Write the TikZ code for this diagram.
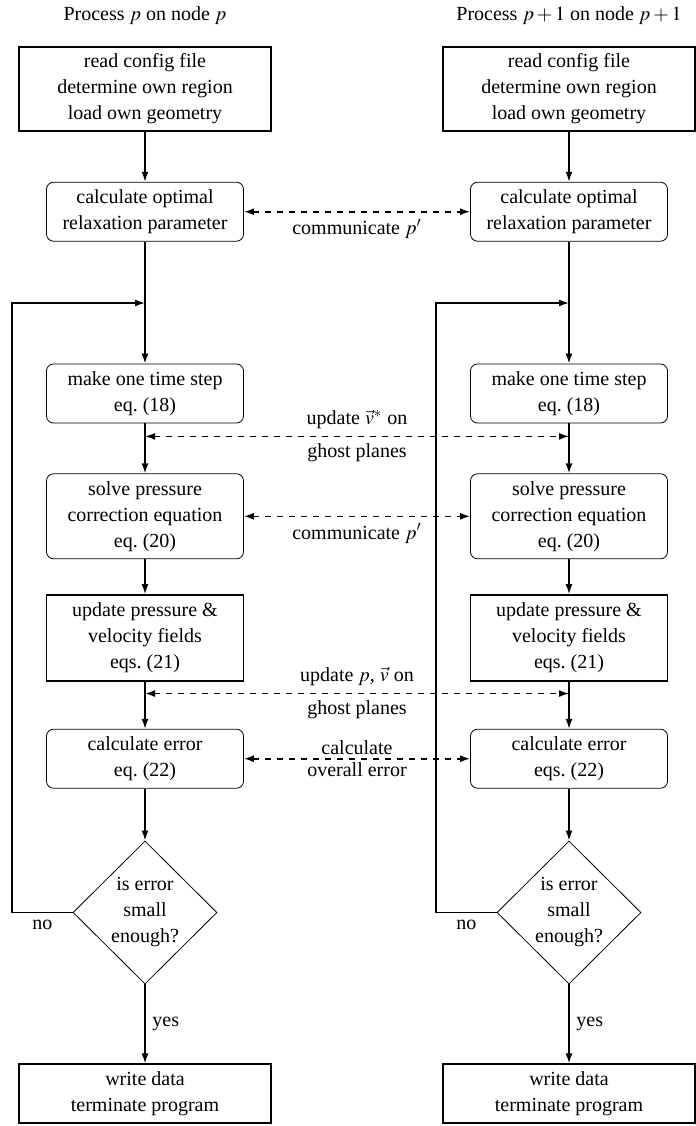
\documentclass[tikz,border=0pt]{standalone}
\usepackage{amsmath}
\usepackage{mathptmx}
\usepackage[no-math]{fontspec}
\setmainfont{Liberation Serif}
\usepackage{tikz}
\usetikzlibrary{arrows.meta,positioning,shapes.geometric,calc}

\begin{document}
\begin{tikzpicture}[
  node distance=25pt,
  font=\fontsize{10}{13}\selectfont,
  box/.style={draw, thick, align=center, minimum width=126pt, minimum height=42pt},
  rbox/.style={draw, rounded corners=3.5pt, align=center, minimum width=98.5pt,
               minimum height=29.5pt},
  sbox/.style={draw, thick, align=center, minimum width=98.5pt, minimum height=43pt},
  test/.style={draw, diamond, aspect=1, align=center, inner sep=0pt,
               minimum width=72pt, minimum height=71.5pt},
  arr/.style={thick, -{Latex[length=5pt,width=3.5pt]}},
  com/.style={thick, dashed, {Latex[length=5pt,width=3.5pt]}-{Latex[length=5pt,width=3.5pt]}}]
\useasboundingbox (0,0) rectangle (348pt,-563pt);

% process p
\node (tL) at (72.5pt,-8pt) {Process $p$ on node $p$};
\node[box] (b1L) at (72.5pt,-44.5pt) {read config file\\determine own region\\load own geometry};
\node[rbox, below=25pt of b1L] (b2L) {calculate optimal\\relaxation parameter};
\node[rbox, below=61pt of b2L] (b3L) {make one time step\\eq.~(18)};
\node[rbox, below=25pt of b3L, minimum height=42.5pt] (b4L) {solve pressure\\correction equation\\eq.~(20)};
\node[sbox, below=17.5pt of b4L] (b5L) {update pressure \&\\velocity fields\\eqs.~(21)};
\node[rbox, below=23.5pt of b5L] (b6L) {calculate error\\eq.~(22)};
\node[test, below=26pt of b6L] (dL) {is error\\small\\enough?};
\node[box, below=39.5pt of dL, minimum height=29.5pt] (b7L) {write data\\terminate program};
\coordinate (jL) at (72.5pt,-151.5pt);
\coordinate (lpL) at (6pt,-151.5pt);

% process p+1
\node (tR) at (284.5pt,-8pt) {Process $p+1$ on node $p+1$};
\node[box] (b1R) at (284.5pt,-44.5pt) {read config file\\determine own region\\load own geometry};
\node[rbox, below=25pt of b1R] (b2R) {calculate optimal\\relaxation parameter};
\node[rbox, below=61pt of b2R] (b3R) {make one time step\\eq.~(18)};
\node[rbox, below=25pt of b3R, minimum height=42.5pt] (b4R) {solve pressure\\correction equation\\eq.~(20)};
\node[sbox, below=17.5pt of b4R] (b5R) {update pressure \&\\velocity fields\\eqs.~(21)};
\node[rbox, below=23.5pt of b5R] (b6R) {calculate error\\eqs.~(22)};
\node[test, below=26pt of b6R] (dR) {is error\\small\\enough?};
\node[box, below=39.5pt of dR, minimum height=29.5pt] (b7R) {write data\\terminate program};
\coordinate (jR) at (284.5pt,-151.5pt);
\coordinate (lpR) at (218pt,-151.5pt);

% ghost plane points
\coordinate (g1L) at ($(b3L.south)!0.26!(b4L.north)$);
\coordinate (g1R) at ($(b3R.south)!0.26!(b4R.north)$);
\coordinate (g2L) at ($(b5L.south)!0.25!(b6L.north)$);
\coordinate (g2R) at ($(b5R.south)!0.25!(b6R.north)$);

% flow
\foreach \s in {L,R} {
  \draw[arr] (b1\s) -- (b2\s);
  \draw[arr] (b2\s) -- (b3\s);
  \draw[arr] (b3\s) -- (b4\s);
  \draw[arr] (b4\s) -- (b5\s);
  \draw[arr] (b5\s) -- (b6\s);
  \draw[arr] (b6\s) -- (d\s);
  \draw[arr] (d\s) -- node[right] {yes} (b7\s);
  \draw[arr] (d\s.west) -- node[below] {no} (d\s.west -| lp\s) -- (lp\s) -- (j\s);
}

% communication
\draw[com] (b2L) -- node[below] {communicate $p'$} (b2R);
\draw[com] (g1L) -- node[above] {update $\vec{v}^{*}$ on}
                    node[below] {ghost planes} (g1R);
\draw[com] (b4L) -- node[below] {communicate $p'$} (b4R);
\draw[com] (g2L) -- node[above] {update $p$, $\vec{v}$ on}
                    node[below] {ghost planes} (g2R);
\draw[com] (b6L) -- node[above, inner sep=1.5pt] {calculate}
                    node[below, inner sep=1.5pt] {overall error} (b6R);
\end{tikzpicture}
\end{document}
